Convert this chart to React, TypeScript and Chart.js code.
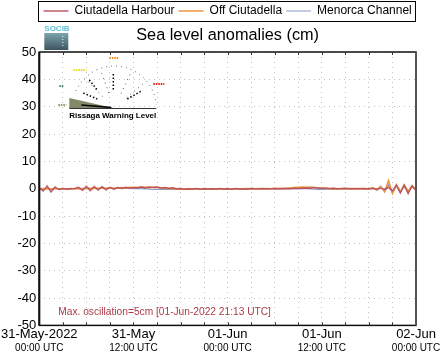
import React, { useEffect, useRef } from 'react';
import { Chart, registerables } from 'chart.js';

Chart.register(...registerables);

const FONT = '"Liberation Sans", Arial, Helvetica, sans-serif';

const seriesNames = ['Ciutadella Harbour', 'Off Ciutadella', 'Menorca Channel'];
const seriesColors = ['rgba(185,75,90,0.9)', 'rgb(236,150,60)', 'rgb(140,155,205)'];

// sample step: 30 minutes, starting 31-May-2022 00:00 UTC (hours from start)
const stepHours = 0.5;

const ciutadellaHarbour = [
  0.2, -0.8, 1.0, -1.2, 0.6, -0.3, 0.1, -0.2, 0.0, 0.1,
  0.5, -0.6, 0.9, -0.7, 0.8, -0.5, 0.7, -0.4, 0.5, -0.2,
  0.4, 0.1, 0.5, 0.2, 0.4, 0.3, 0.6, 0.3, 0.5, 0.4, 0.6, 0.3,
  0.4, 0.2, 0.3, 0.0, 0.1, -0.2, 0.0, -0.1, 0.1, -0.2, 0.0, -0.1,
  0.0, -0.2, 0.1, -0.1, 0.0, -0.2, 0.1, -0.1, 0.0, -0.2, 0.1, 0.0,
  -0.1, 0.1, -0.1, 0.0, 0.1, -0.1, 0.0, 0.1, 0.0, 0.2, 0.1, 0.2,
  0.3, 0.2, 0.4, 0.3, 0.2, 0.3, 0.1, 0.2, 0.0, 0.1, 0.2, 0.0,
  0.1, 0.0, 0.1, -0.1, 0.0, 0.1, -0.1, 0.2, -0.3, 0.5, -0.8, 1.2,
  -1.5, 1.3, -1.8, 1.0, -0.6,
];

const offCiutadella = [
  0.0, 0.1, -0.1, 0.0, 0.1, 0.0, -0.1, 0.0, 0.1, 0.0,
  0.1, 0.0, 0.2, 0.1, 0.2, 0.1, 0.3, 0.2, 0.3, 0.2,
  0.3, 0.4, 0.3, 0.5, 0.4, 0.5, 0.6, 0.5, 0.6, 0.5, 0.4, 0.3,
  0.2, 0.1, 0.0, -0.1, -0.2, -0.1, -0.2, -0.1, 0.0, -0.1, 0.0, -0.1,
  0.0, -0.1, 0.0, -0.1, 0.0, 0.0, -0.1, 0.0, 0.0, 0.1, 0.0, 0.0,
  0.1, 0.0, 0.1, 0.0, 0.1, 0.2, 0.1, 0.2, 0.3, 0.4, 0.5, 0.6,
  0.5, 0.6, 0.4, 0.3, 0.2, 0.1, 0.0, 0.1, 0.0, -0.1, 0.0, 0.1,
  0.0, 0.1, 0.0, 0.1, 0.0, 0.3, -0.4, 0.8, -1.0, 3.0, -1.8, 1.5,
  -1.2, 1.4, -1.0, 1.2, -0.5,
];

const menorcaChannel = [
  0.0, -0.2, 0.3, -0.3, 0.2, -0.1, 0.0, 0.0, -0.1, 0.0,
  0.0, 0.1, 0.0, 0.1, 0.2, 0.1, 0.2, 0.1, 0.2, 0.1,
  0.2, 0.1, 0.2, 0.1, 0.0, 0.1, 0.0, -0.1, -0.2, -0.3, -0.2, -0.3,
  -0.3, -0.2, -0.3, -0.2, -0.3, -0.2, -0.1, -0.2, -0.1, -0.2, -0.1, -0.2,
  -0.1, -0.2, -0.1, -0.2, -0.1, 0.0, -0.1, 0.0, -0.1, 0.0, -0.1, 0.0,
  0.0, -0.1, 0.0, 0.0, -0.1, 0.0, 0.1, 0.0, 0.1, 0.0, 0.1, 0.0,
  0.0, -0.1, -0.2, -0.3, -0.2, -0.3, -0.2, -0.1, -0.2, -0.1, 0.0, -0.1,
  0.0, -0.1, 0.0, 0.1, -0.2, 0.4, -0.6, 0.9, -1.2, 1.5, -1.6, 1.3,
  -1.4, 1.1, -1.0, 0.8, -0.5,
];

const dateTickHours = [0, 12, 24, 36, 48];
const dateLabels = ['31-May-2022', '31-May', '01-Jun', '01-Jun', '02-Jun'];
const timeLabels = ['00:00 UTC', '12:00 UTC', '00:00 UTC', '12:00 UTC', '00:00 UTC'];

const titleText = 'Sea level anomalies (cm)';
const maxOscText = 'Max. oscillation=5cm [01-Jun-2022 21:13 UTC]';
const insetText = 'Rissaga Warning Level';
const logoText = 'SOCIB';

const toPoints = (vals: number[]) => vals.map((v, i) => ({ x: i * stepHours, y: v }));

const labelAt = (arr: string[], v: number) => {
  const idx = dateTickHours.indexOf(v);
  return idx >= 0 ? arr[idx] : '';
};

const decorPlugin = {
  id: 'decor',
  afterDraw(chart: any) {
    const { ctx, chartArea: a, scales } = chart;
    ctx.save();

    // legend frame
    const lg = chart.legend;
    if (lg && lg.legendHitBoxes && lg.legendHitBoxes.length) {
      const hb = lg.legendHitBoxes;
      const l = hb[0].left - 6;
      const last = hb[hb.length - 1];
      const r = last.left + last.width + 3;
      const t = hb[0].top - 4;
      const b = hb[0].top + hb[0].height + 4;
      ctx.strokeStyle = '#000';
      ctx.lineWidth = 1;
      ctx.strokeRect(Math.round(l) + 0.5, Math.round(t) + 0.5, Math.round(r - l), Math.round(b - t));
    }

    // plot frame
    ctx.strokeStyle = '#111';
    ctx.lineWidth = 1.5;
    ctx.strokeRect(a.left, a.top, a.width, a.height);
    ctx.lineWidth = 2;
    ctx.beginPath();
    ctx.moveTo(a.left, a.top);
    ctx.lineTo(a.left, a.bottom);
    ctx.stroke();
    ctx.strokeStyle = '#555';
    ctx.beginPath();
    ctx.moveTo(a.right, a.top);
    ctx.lineTo(a.right, a.bottom);
    ctx.stroke();

    // small tick marks on top / bottom borders
    ctx.strokeStyle = '#333';
    ctx.lineWidth = 1;
    const xs = scales.x;
    for (let h = 3; h < 48; h += 3) {
      const px = Math.round(xs.getPixelForValue(h)) + 0.5;
      ctx.beginPath();
      ctx.moveTo(px, a.bottom);
      ctx.lineTo(px, a.bottom - 3);
      ctx.moveTo(px, a.top);
      ctx.lineTo(px, a.top + 3);
      ctx.stroke();
    }

    // max oscillation note
    ctx.font = `10.2px ${FONT}`;
    ctx.fillStyle = 'rgb(170,60,72)';
    ctx.textBaseline = 'alphabetic';
    ctx.textAlign = 'left';
    ctx.fillText(maxOscText, a.left + 19, a.bottom - 10.5);

    // SOCIB logo
    const lx = a.left + 5;
    const ly = a.top;
    ctx.font = `bold 8px ${FONT}`;
    ctx.fillStyle = 'rgb(95,195,215)';
    ctx.textBaseline = 'alphabetic';
    ctx.fillText(logoText, lx, ly - 21);
    const g = ctx.createLinearGradient(0, ly - 19, 0, ly - 2);
    g.addColorStop(0, 'rgb(125,165,175)');
    g.addColorStop(1, 'rgb(60,85,95)');
    ctx.fillStyle = g;
    ctx.fillRect(lx, ly - 19, 24, 17);
    ctx.strokeStyle = 'rgba(255,255,255,0.9)';
    ctx.setLineDash([1, 2]);
    ctx.beginPath();
    ctx.moveTo(lx + 18.5, ly - 16);
    ctx.lineTo(lx + 18.5, ly - 4);
    ctx.stroke();
    ctx.setLineDash([]);

    // Rissaga warning inset
    const ox = a.left;
    const oy = a.top;
    ctx.strokeStyle = 'rgb(90,90,90)';
    ctx.lineWidth = 1;
    ctx.setLineDash([1, 4]);
    ctx.beginPath();
    ctx.arc(ox + 75, oy + 56, 42, (204 * Math.PI) / 180, (355 * Math.PI) / 180);
    ctx.stroke();
    [225, 250, 295, 320].forEach((deg) => {
      const rad = (deg * Math.PI) / 180;
      ctx.beginPath();
      ctx.moveTo(ox + 75 + Math.cos(rad) * 16, oy + 56 + Math.sin(rad) * 16);
      ctx.lineTo(ox + 75 + Math.cos(rad) * 39, oy + 56 + Math.sin(rad) * 39);
      ctx.stroke();
    });
    ctx.strokeStyle = '#000';
    ctx.lineWidth = 1.5;
    ctx.setLineDash([1.5, 2]);
    const marks = [
      [74, 22, 74, 39],
      [50, 28, 58, 38],
      [44, 41, 58, 47],
      [88, 47, 102, 39],
    ];
    marks.forEach(([x1, y1, x2, y2]) => {
      ctx.beginPath();
      ctx.moveTo(ox + x1, oy + y1);
      ctx.lineTo(ox + x2, oy + y2);
      ctx.stroke();
    });
    ctx.lineWidth = 2;
    ctx.setLineDash([1.5, 1]);
    const levelMarks: [number, number, number, string][] = [
      [70, 80, 6, 'rgb(240,140,20)'],
      [34, 47, 18, 'rgb(235,215,30)'],
      [20, 25, 34, 'rgb(60,130,120)'],
      [19, 27, 53, 'rgb(140,150,100)'],
      [114, 125, 32, 'rgb(230,30,30)'],
    ];
    levelMarks.forEach(([x1, x2, y, c]) => {
      ctx.strokeStyle = c;
      ctx.beginPath();
      ctx.moveTo(ox + x1, oy + y);
      ctx.lineTo(ox + x2, oy + y);
      ctx.stroke();
    });
    ctx.setLineDash([]);
    ctx.fillStyle = 'rgb(128,138,104)';
    ctx.beginPath();
    ctx.moveTo(ox + 30, oy + 46);
    ctx.lineTo(ox + 30, oy + 56);
    ctx.lineTo(ox + 74, oy + 56);
    ctx.closePath();
    ctx.fill();
    ctx.strokeStyle = '#000';
    ctx.lineWidth = 1.5;
    ctx.beginPath();
    ctx.moveTo(ox + 42, oy + 53);
    ctx.lineTo(ox + 72, oy + 55.5);
    ctx.stroke();
    ctx.strokeStyle = '#333';
    ctx.lineWidth = 1;
    ctx.beginPath();
    ctx.moveTo(ox + 30, oy + 56.5);
    ctx.lineTo(ox + 117, oy + 56.5);
    ctx.stroke();
    ctx.fillStyle = '#000';
    ctx.font = `bold 10px ${FONT}`;
    const w10 = ctx.measureText(insetText).width;
    const fs = (10 * 87) / w10;
    ctx.font = `bold ${fs.toFixed(2)}px ${FONT}`;
    ctx.fillText(insetText, ox + 30, oy + 66);

    ctx.restore();
  },
};

export default function App() {
  const ref = useRef<HTMLCanvasElement | null>(null);

  useEffect(() => {
    if (!ref.current) return;
    const data = [ciutadellaHarbour, offCiutadella, menorcaChannel];
    const chart = new Chart(ref.current, {
      type: 'line',
      data: {
        datasets: data.map((vals, i) => ({
          label: seriesNames[i],
          data: toPoints(vals),
          borderColor: seriesColors[i],
          backgroundColor: seriesColors[i],
          borderWidth: i === 2 ? 1.2 : 1.5,
          pointRadius: 0,
          tension: 0,
          fill: false,
        })),
      },
      options: {
        responsive: false,
        animation: false,
        layout: { padding: { top: 1, left: 13, right: 29, bottom: 6 } },
        plugins: {
          legend: {
            position: 'top',
            fullSize: false,
            weight: 2000,
            labels: {
              usePointStyle: true,
              pointStyle: 'line',
              pointStyleWidth: 25,
              padding: 4,
              color: '#000',
              font: { size: 12, family: FONT },
            },
          },
          title: {
            display: true,
            fullSize: false,
            weight: 1000,
            text: titleText,
            color: '#000',
            font: { size: 16.3, family: FONT, weight: 'normal', lineHeight: 1 },
            padding: { top: 0, bottom: 8.7 },
          },
          tooltip: { enabled: false },
        },
        scales: {
          x: {
            type: 'linear',
            position: 'bottom',
            min: 0,
            max: 48,
            grid: { color: 'rgb(195,195,195)', drawTicks: false, lineWidth: 1 },
            border: { display: false, dash: [1, 4] },
            ticks: {
              stepSize: 3,
              autoSkip: false,
              maxRotation: 0,
              padding: 1,
              color: '#000',
              font: { size: 13, family: FONT },
              callback: (v: any) => labelAt(dateLabels, Number(v)),
            },
          },
          x2: {
            type: 'linear',
            position: 'bottom',
            min: 0,
            max: 48,
            grid: { display: false, drawTicks: false },
            border: { display: false },
            ticks: {
              stepSize: 12,
              autoSkip: false,
              maxRotation: 0,
              padding: -1,
              color: '#000',
              font: { size: 10, family: FONT },
              callback: (v: any) => labelAt(timeLabels, Number(v)),
            },
          },
          y: {
            min: -50,
            max: 50,
            grid: { color: 'rgb(195,195,195)', drawTicks: false, lineWidth: 1 },
            border: { display: false, dash: [1, 4] },
            ticks: {
              stepSize: 10,
              padding: 3,
              color: '#000',
              font: { size: 13, family: FONT },
            },
          },
        },
      },
      plugins: [decorPlugin],
    } as any);
    return () => chart.destroy();
  }, []);

  return (
    <div style={{ position: 'fixed', left: 0, top: 0, width: 445, height: 359, background: '#fff' }}>
      <canvas ref={ref} width={445} height={359} style={{ display: 'block' }} />
    </div>
  );
}
